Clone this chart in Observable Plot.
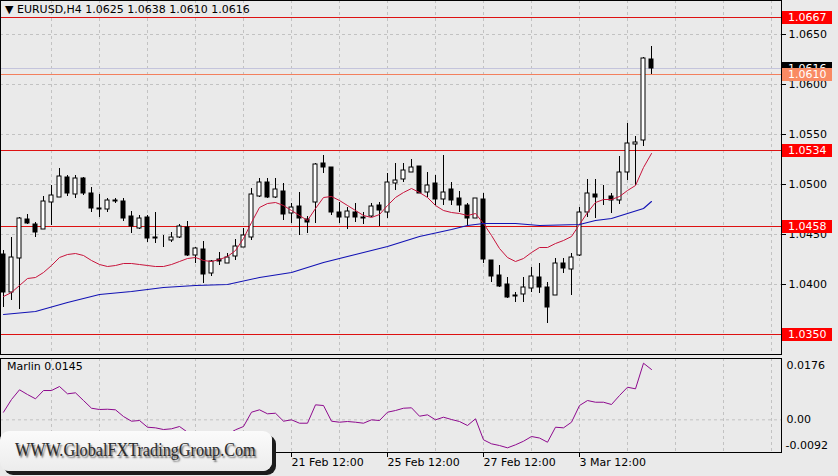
<!DOCTYPE html>
<html><head><meta charset="utf-8">
<script src="https://cdn.jsdelivr.net/npm/d3@7"></script>
<script src="https://cdn.jsdelivr.net/npm/@observablehq/plot@0.6"></script>
<style>
body{margin:0;background:#eaeaea;}
#root{position:relative;width:838px;height:476px;overflow:hidden;background:#eaeaea;font-family:"DejaVu Sans",sans-serif;font-size:11px;color:#000;}
#root > svg{position:absolute;left:0;}
.tag{position:absolute;left:782px;width:50px;height:13px;line-height:13px;color:#fff;font-size:11px;padding-left:6px;box-sizing:border-box;white-space:nowrap;}
.lbl{position:absolute;white-space:nowrap;font-size:11px;}
</style></head><body><div id="root"></div><script>
// ---- data ----
const symbol = "EURUSD,H4";
const opens  = [1.0430,1.0392,1.0426,1.0465,1.0460,1.0455,1.0482,1.0487,1.0507,1.0490,1.0506,1.0491,1.0476,1.0475,1.0484,1.0483,1.0468,1.0456,1.0467,1.0447,1.0446,1.0444,1.0447,1.0457,1.0429,1.0435,1.0411,1.0425,1.0421,1.0428,1.0437,1.0447,1.0488,1.0502,1.0487,1.0493,1.0471,1.0478,1.0465,1.0482,1.0521,1.0517,1.0472,1.0467,1.0472,1.0467,1.0468,1.0479,1.0472,1.0501,1.0505,1.0512,1.0518,1.0492,1.0501,1.0485,1.0495,1.0486,1.0479,1.0466,1.0485,1.0424,1.0409,1.0400,1.0389,1.0390,1.0396,1.0407,1.0397,1.0389,1.0421,1.0415,1.0429,1.0472,1.0490,1.0489,1.0488,1.0484,1.0512,1.0540,1.0544,1.0625];
const highs  = [1.0434,1.0447,1.0467,1.0470,1.0462,1.0488,1.0499,1.0516,1.0509,1.0509,1.0507,1.0497,1.0490,1.0486,1.0486,1.0486,1.0473,1.0469,1.0469,1.0472,1.0449,1.0452,1.0460,1.0463,1.0437,1.0443,1.0424,1.0432,1.0431,1.0445,1.0456,1.0496,1.0506,1.0506,1.0506,1.0501,1.0481,1.0492,1.0468,1.0521,1.0529,1.0517,1.0482,1.0477,1.0481,1.0472,1.0481,1.0482,1.0511,1.0521,1.0521,1.0525,1.0518,1.0512,1.0509,1.0529,1.0502,1.0493,1.0481,1.0486,1.0491,1.0424,1.0419,1.0407,1.0392,1.0407,1.0417,1.0421,1.0402,1.0426,1.0426,1.0431,1.0477,1.0505,1.0505,1.0499,1.0491,1.0528,1.0561,1.0548,1.0627,1.0638];
const lows   = [1.0377,1.0384,1.0375,1.0460,1.0447,1.0455,1.0459,1.0487,1.0488,1.0486,1.0489,1.0472,1.0467,1.0472,1.0481,1.0463,1.0451,1.0455,1.0442,1.0441,1.0437,1.0442,1.0446,1.0428,1.0421,1.0401,1.0408,1.0419,1.0421,1.0424,1.0437,1.0444,1.0487,1.0486,1.0486,1.0464,1.0461,1.0449,1.0451,1.0461,1.0511,1.0469,1.0461,1.0455,1.0462,1.0460,1.0467,1.0458,1.0466,1.0494,1.0502,1.0512,1.0491,1.0487,1.0479,1.0479,1.0479,1.0472,1.0459,1.0466,1.0421,1.0402,1.0397,1.0386,1.0382,1.0382,1.0392,1.0391,1.0361,1.0389,1.0411,1.0389,1.0428,1.0467,1.0466,1.0479,1.0471,1.0480,1.0504,1.0499,1.0538,1.0610];
const closes = [1.0392,1.0427,1.0466,1.0461,1.0452,1.0483,1.0489,1.0508,1.0491,1.0506,1.0491,1.0476,1.0475,1.0484,1.0483,1.0466,1.0458,1.0466,1.0446,1.0446,1.0446,1.0447,1.0458,1.0429,1.0436,1.0410,1.0423,1.0423,1.0427,1.0438,1.0449,1.0490,1.0502,1.0487,1.0495,1.0470,1.0477,1.0466,1.0462,1.0520,1.0517,1.0472,1.0467,1.0473,1.0467,1.0466,1.0478,1.0474,1.0502,1.0504,1.0514,1.0517,1.0491,1.0499,1.0485,1.0492,1.0484,1.0479,1.0466,1.0486,1.0425,1.0408,1.0398,1.0387,1.0388,1.0397,1.0408,1.0397,1.0377,1.0421,1.0416,1.0427,1.0472,1.0491,1.0487,1.0489,1.0484,1.0512,1.0541,1.0542,1.0626,1.0616];
const fastMA = [1.0388,1.0392,1.0399,1.0406,1.0407,1.0412,1.0419,1.0427,1.0430,1.0431,1.0429,1.0424,1.0420,1.0418,1.0419,1.0421,1.0421,1.0420,1.0419,1.0418,1.0418,1.0420,1.0423,1.0426,1.0427,1.0424,1.0423,1.0425,1.0428,1.0434,1.0446,1.0462,1.0477,1.0481,1.0482,1.0479,1.0474,1.0469,1.0464,1.0476,1.0487,1.0488,1.0484,1.0479,1.0474,1.0469,1.0467,1.0470,1.0479,1.0487,1.0492,1.0496,1.0492,1.0487,1.0479,1.0474,1.0472,1.0471,1.0469,1.0471,1.0461,1.0449,1.0436,1.0427,1.0423,1.0426,1.0432,1.0437,1.0437,1.0441,1.0444,1.0448,1.0460,1.0472,1.0482,1.0485,1.0485,1.0488,1.0494,1.0499,1.0517,1.0531];
const slowMAIndex = [0,4,8,12,16,20,24,28,32,36,40,44,48,52,56,58,60,64,67,72,74,76,78,80,81];
const slowMA      = [1.0370,1.0373,1.0382,1.0390,1.0393,1.0397,1.0399,1.0400,1.0407,1.0412,1.0422,1.0430,1.0438,1.0448,1.0455,1.0459,1.0461,1.0461,1.0459,1.0460,1.0464,1.0466,1.0471,1.0476,1.0483];
const marlin = [0.00219,0.00585,0.00865,0.00729,0.00605,0.00844,0.00844,0.00960,0.00749,0.00778,0.00556,0.00334,0.00297,0.00305,0.00288,0.00095,-0.00040,-0.00020,-0.00213,-0.00231,-0.00280,-0.00259,-0.00193,-0.00357,-0.00510,-0.00710,-0.00650,-0.00600,-0.00420,-0.00288,-0.00193,0.00219,0.00288,0.00173,0.00190,-0.00040,0.00000,-0.00098,-0.00098,0.00432,0.00412,-0.00040,-0.00069,-0.00049,-0.00069,-0.00098,0.00000,-0.00020,0.00219,0.00268,0.00334,0.00346,0.00104,0.00144,0.00000,0.00075,0.00009,-0.00049,-0.00164,0.00029,-0.00576,-0.00692,-0.00741,-0.00807,-0.00720,-0.00617,-0.00481,-0.00525,-0.00646,-0.00213,-0.00231,-0.00069,0.00412,0.00556,0.00507,0.00507,0.00441,0.00700,0.00939,0.00893,0.01631,0.01450];
const marlinName = "Marlin";
const marlinMax = 0.0176, marlinMin = -0.0092;
const redLevels = [1.0667, 1.0534, 1.0458, 1.0350];
const coralLevel = 1.0610;
const priceTicks = [1.0400, 1.0450, 1.0500, 1.0550, 1.0600, 1.0650];
const timeTickIndex = [36, 48, 60, 72];
const timeTickLabels = ["21 Feb 12:00", "25 Feb 12:00", "27 Feb 12:00", "3 Mar 12:00"];
const watermarkText = "WWW.GlobalFXTradingGroup.Com";

// ---- build ----
const candles = opens.map((o, i) => ({i, o, h: highs[i], l: lows[i], c: closes[i]}));
const slow = slowMAIndex.map((i, k) => ({i, v: slowMA[k]}));
const last = candles[candles.length - 1];
const vGrid = d3.range(6, 97, 6);
const xDomain = [-0.375, 97.25];
const grid = {stroke: "#c2c2c2", strokeDasharray: "3,3"};
const font = {background: "transparent", fontFamily: "DejaVu Sans", fontSize: "11px", color: "#000", overflow: "visible"};
const root = document.getElementById("root");

const main = Plot.plot({
  width: 838, height: 356,
  marginTop: 0, marginBottom: 2, marginLeft: 0, marginRight: 57,
  style: font,
  x: {type: "linear", domain: xDomain, axis: null},
  y: {domain: [1.0330, 1.0684], axis: null},
  marks: [
    Plot.ruleX(vGrid, {x: d => d, ...grid}),
    Plot.ruleY(priceTicks, {y: d => d, ...grid}),
    Plot.axisY({anchor: "right", ticks: priceTicks, tickFormat: d3.format(".4f"), tickSize: 4, tickPadding: 3, fontSize: 11}),
    Plot.ruleY([last.c], {y: d => d, stroke: "#c4c4dc"}),
    Plot.ruleY([coralLevel], {y: d => d, stroke: "#f3805e"}),
    Plot.ruleY(redLevels, {y: d => d, stroke: "#dd1111", strokeWidth: 1.2}),
    Plot.ruleX(candles, {x: "i", y1: "l", y2: "h", stroke: "#000"}),
    Plot.rect(candles.filter(d => d.c > d.o), {x1: d => d.i - 0.25, x2: d => d.i + 0.25, y1: "o", y2: "c", fill: "#fff", stroke: "#000"}),
    Plot.rect(candles.filter(d => d.c <= d.o), {x1: d => d.i - 0.25, x2: d => d.i + 0.25, y1: "o", y2: "c", fill: "#000", stroke: "#000"}),
    Plot.line(fastMA, {x: (d, i) => i, y: d => d, stroke: "#c8143c", strokeWidth: 1}),
    Plot.line(slow, {x: "i", y: "v", stroke: "#1212b4", strokeWidth: 1.1}),
    Plot.frame({stroke: "#000"})
  ]
});
main.style.top = "0px";
root.appendChild(main);

const ind = Plot.plot({
  width: 838, height: 120,
  marginTop: 2, marginBottom: 24, marginLeft: 0, marginRight: 57,
  style: font,
  x: {type: "linear", domain: xDomain, axis: null},
  y: {domain: [-0.00942, 0.01767], axis: null},
  marks: [
    Plot.ruleX(vGrid, {x: d => d, ...grid}),
    Plot.ruleY([0], {y: d => d, ...grid}),
    Plot.line(marlin, {x: (d, i) => i, y: d => d, stroke: "#8e0a8e", strokeWidth: 1}),
    Plot.frame({stroke: "#000"}),
    Plot.axisX({ticks: timeTickIndex, tickFormat: d => timeTickLabels[timeTickIndex.indexOf(d)], textAnchor: "start", tickSize: 5, tickPadding: 1, fontSize: 11}),
    Plot.text([marlinMax], {y: d => d, text: d => d.toFixed(4), frameAnchor: "right", textAnchor: "start", dx: 5, dy: 7, fontSize: 11}),
    Plot.text([0], {y: d => d, text: d => d.toFixed(2), frameAnchor: "right", textAnchor: "start", dx: 5, dy: 0, fontSize: 11}),
    Plot.text([marlinMin], {y: d => d, text: d => d.toFixed(4), frameAnchor: "right", textAnchor: "start", dx: 4, dy: -6, fontSize: 11})
  ]
});
ind.style.top = "356px";
root.appendChild(ind);

// price tags on the right axis, placed through the y scale
const ys = main.scale("y");
function tag(v, bg, fg) {
  const d = document.createElement("div");
  d.className = "tag";
  d.style.top = (ys.apply(v) - 6.5) + "px";
  d.style.background = bg;
  d.style.color = fg;
  d.textContent = v.toFixed(4);
  root.appendChild(d);
}
tag(last.c, "#000", "#fff");
tag(coralLevel, "#f98a63", "#fff");
redLevels.forEach(v => tag(v, "#f00", "#fff"));

// titles
const t = document.createElement("div");
t.className = "lbl";
t.style.left = "5px"; t.style.top = "3px";
t.textContent = "\u25BC " + symbol + "  " + [last.o, last.h, last.l, last.c].map(v => v.toFixed(4)).join(" ");
root.appendChild(t);
const m = document.createElement("div");
m.className = "lbl";
m.style.left = "7px"; m.style.top = "360px";
m.textContent = marlinName + " " + marlin[marlin.length - 1].toFixed(4);
root.appendChild(m);

// watermark
const w = document.createElement("div");
w.style.cssText = "position:absolute;left:0;top:431px;width:272px;height:40px;border-radius:9px;background:linear-gradient(#fbfbfb,#ececec);box-shadow:4px 4px 0 #1c1c1c;";
const ws = document.createElement("div");
ws.style.cssText = "position:absolute;left:15px;top:7px;white-space:nowrap;font-family:'Liberation Serif',serif;font-size:16.2px;line-height:20px;color:#2a2a2a;transform:scaleY(1.2);transform-origin:left top;text-shadow:1.5px 2px 1.5px rgba(0,0,0,0.55);";
ws.textContent = watermarkText;
w.appendChild(ws);
root.appendChild(w);
</script></body></html>
